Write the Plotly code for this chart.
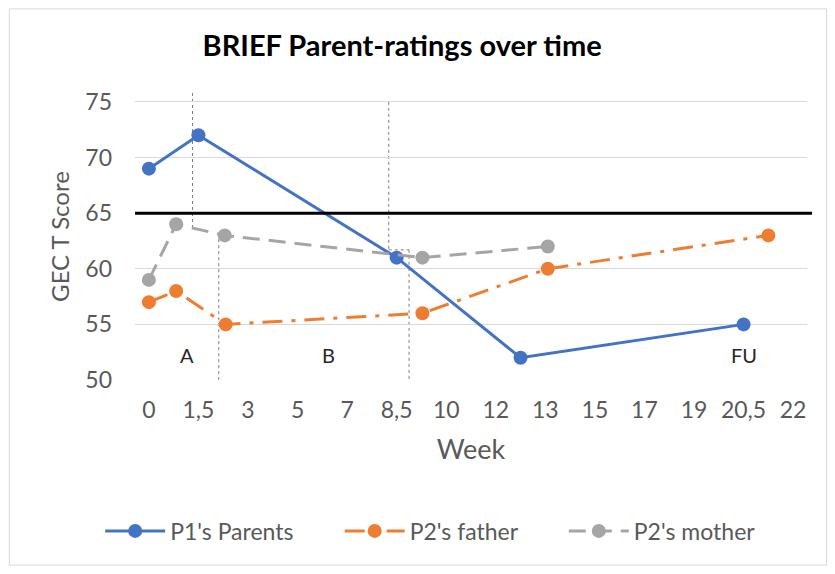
import plotly.graph_objects as go

BLUE = "#4472C4"
ORANGE = "#ED7D31"
GRAY = "#A5A5A5"
TXT = "#595959"
FONT = "Lato"
NB = "\u00a0"

# x axis: evenly spaced category ticks, points placed by position along it
week_labels = ["0", "1,5", "3", "5", "7", "8,5", "10", "12", "13", "15", "17", "19", "20,5", "22"]

p1_x = [0, 1.0, 5.0, 7.5, 12.0]
p1_y = [69, 72, 61, 52, 55]

father_x = [0, 0.55, 1.55, 5.52, 8.05, 12.5]
father_y = [57, 58, 55, 56, 60, 63]

mother_x = [0, 0.55, 1.53, 5.52, 8.05]
mother_y = [59, 64, 63, 61, 62]

cutoff = 65

# phase boundaries (dotted) and phase labels
phase_lines = [
    (0.88, 75.8, 0.88, 63.7),
    (1.41, 63.2, 1.41, 50),
    (4.84, 75.0, 4.84, 61.7),
    (4.84, 61.7, 5.25, 61.7),
    (5.25, 61.7, 5.25, 50),
]
phase_names = ["A", "B", "FU"]
phase_pos = [0.76, 3.62, 12.0]

fig = go.Figure()
fig.add_trace(go.Scatter(x=p1_x, y=p1_y, name="P1's Parents" + NB * 7, mode="lines+markers",
                         line=dict(color=BLUE, width=3), marker=dict(size=14, color=BLUE)))
fig.add_trace(go.Scatter(x=father_x, y=father_y, name="P2's father" + NB * 7, mode="lines+markers",
                         line=dict(color=ORANGE, width=3, dash="20px,9px,4px,9px"),
                         marker=dict(size=14, color=ORANGE)))
fig.add_trace(go.Scatter(x=mother_x, y=mother_y, name="P2's mother", mode="lines+markers",
                         line=dict(color=GRAY, width=3, dash="17px,9px"), marker=dict(size=14, color=GRAY)))

for x0, y0, x1, y1 in phase_lines:
    fig.add_shape(type="line", x0=x0, y0=y0, x1=x1, y1=y1, xref="x", yref="y",
                  line=dict(color="#7F7F7F", width=1, dash="dot"), layer="below")

fig.add_shape(type="line", xref="paper", yref="y", x0=0, x1=1.0074, y0=cutoff, y1=cutoff,
              line=dict(color="black", width=3))

for name, pos in zip(phase_names, phase_pos):
    fig.add_annotation(x=pos, y=52.25, text=name, showarrow=False,
                       font=dict(family=FONT, size=20, color="#262626"))

# chart border
fig.add_shape(type="rect", xref="paper", yref="paper", x0=-0.187, x1=1.029, y0=-0.645, y1=1.293,
              line=dict(color="#D9D9D9", width=1))

fig.update_layout(
    width=835, height=574,
    title=dict(text="<b>BRIEF Parent-ratings over time</b>", xref="container", x=0.472, xanchor="center",
               y=0.934, yanchor="middle", font=dict(family=FONT, size=29, color="black")),
    margin=dict(l=127, r=36, t=85, b=202, autoexpand=False),
    plot_bgcolor="white", paper_bgcolor="white",
    font=dict(family=FONT, color=TXT, size=23),
    xaxis=dict(range=[-0.28, 13.28], tickvals=list(range(len(week_labels))), ticktext=week_labels,
               showgrid=False, zeroline=False, showline=False, ticks="", ticklabelstandoff=14,
               tickangle=0,
               title=dict(text="Week", font=dict(size=27, color=TXT), standoff=18),
               tickfont=dict(size=23, color=TXT)),
    yaxis=dict(range=[50, 75.8], tickvals=[50, 55, 60, 65, 70, 75], showgrid=True, gridcolor="#D9D9D9",
               zeroline=False, showline=False, ticks="", ticklabelstandoff=22,
               title=dict(text="GEC T Score", font=dict(size=24, color=TXT), standoff=8),
               tickfont=dict(size=23, color=TXT)),
    legend=dict(orientation="h", x=0.44, xanchor="center", y=-0.526, yanchor="middle",
                font=dict(size=23, color=TXT), itemwidth=60),
    showlegend=True,
)

fig.write_html("out.html")
